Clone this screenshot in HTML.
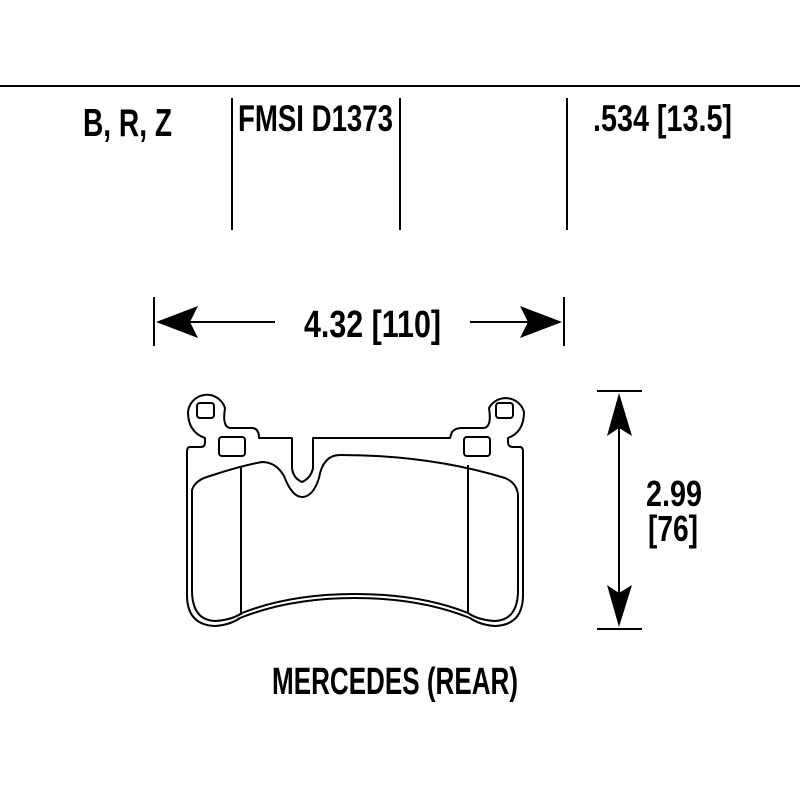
<!DOCTYPE html>
<html><head><style>html,body{margin:0;padding:0;background:#fff}svg{display:block}
text{font-family:"Liberation Sans Narrow","Liberation Sans",sans-serif;font-weight:bold;fill:#000}</style></head>
<body>
<svg width="800" height="800" viewBox="0 0 800 800" xmlns="http://www.w3.org/2000/svg">
<rect width="800" height="800" fill="#fff"/>
<line x1="0" y1="86" x2="800" y2="86" stroke="#000" stroke-width="2"/>
<g stroke="#000" stroke-width="2">
<line x1="232" y1="98" x2="232" y2="230"/>
<line x1="400" y1="98" x2="400" y2="230"/>
<line x1="567" y1="98" x2="567" y2="230"/>
</g>
<text x="83" y="136" font-size="39" textLength="89" lengthAdjust="spacingAndGlyphs">B, R, Z</text>
<text x="238" y="131" font-size="37" textLength="155" lengthAdjust="spacingAndGlyphs">FMSI D1373</text>
<text x="593" y="131" font-size="37" textLength="139" lengthAdjust="spacingAndGlyphs">.534 [13.5]</text>
<g stroke="#000" stroke-width="2">
<line x1="154" y1="297" x2="154" y2="346"/>
<line x1="564" y1="297" x2="564" y2="346"/>
<line x1="185" y1="322" x2="275" y2="322"/>
<line x1="470" y1="322" x2="535" y2="322"/>
</g>
<polygon points="156,322 198,306 190,322 198,338" fill="#000"/>
<polygon points="562,322 520,306 528,322 520,338" fill="#000"/>
<text x="304" y="337" font-size="38" textLength="137" lengthAdjust="spacingAndGlyphs">4.32  [110]</text>
<g stroke="#000" stroke-width="2">
<line x1="597" y1="391" x2="642" y2="391"/>
<line x1="597" y1="629" x2="642" y2="629"/>
<line x1="619" y1="420" x2="619" y2="600"/>
</g>
<polygon points="619,393 607,436 619,428 632,436" fill="#000"/>
<polygon points="619,627 607,585 619,593 632,585" fill="#000"/>
<text x="646" y="506" font-size="36" textLength="56" lengthAdjust="spacingAndGlyphs">2.99</text>
<text x="648" y="541" font-size="36" textLength="50" lengthAdjust="spacingAndGlyphs">[76]</text>
<text x="272" y="694" font-size="38" textLength="246" lengthAdjust="spacingAndGlyphs">MERCEDES (REAR)</text>
<g fill="none" stroke="#000" stroke-width="2" stroke-linejoin="round">
<path d="M190,447 L201,447 Q205,447 205,442 L205,438 Q188,432 188,412 A19,19 0 0 1 225,408 Q222,427 230,428 L252,428 Q258,428 259,436 L259,438 L292,438 L292,468 Q293,478 302,482 Q311,478 313,468 L313,438 L450,438 L452,432 Q455,428 462,428 L484,428 Q492,427 489,408 A19,19 0 0 1 524,412 Q524,432 508,438 L508,442 Q508,447 513,447 L520,447 Q523,447 523,452 L523,595 Q523,625 495,626 Q480,625 470,618 Q420,598 355,598 Q290,598 240,618 Q230,625 215,626 Q187,625 187,595 L187,452 Q187,447 190,447 Z"/>
<path d="M192,490 Q195,480 210,476 Q240,466 262,462 Q276,462 284,476 Q292,497 302,497 Q313,497 319,478 Q323,455 340,455 Q430,455 505,478 Q517,483 518,495 L518,590 Q518,620 495,621 Q478,620 468,613 Q420,594 355,594 Q290,594 242,613 Q232,620 215,621 Q192,620 192,590 Z"/>
<line x1="241" y1="467" x2="241" y2="615"/>
<line x1="468" y1="465" x2="468" y2="613"/>
<rect x="197" y="403" width="17" height="15" rx="3"/>
<rect x="496" y="403" width="17" height="15" rx="3"/>
<rect x="219" y="437" width="26" height="19" rx="3"/>
<rect x="464" y="437" width="26" height="19" rx="3"/>
</g>
</svg>
</body></html>
